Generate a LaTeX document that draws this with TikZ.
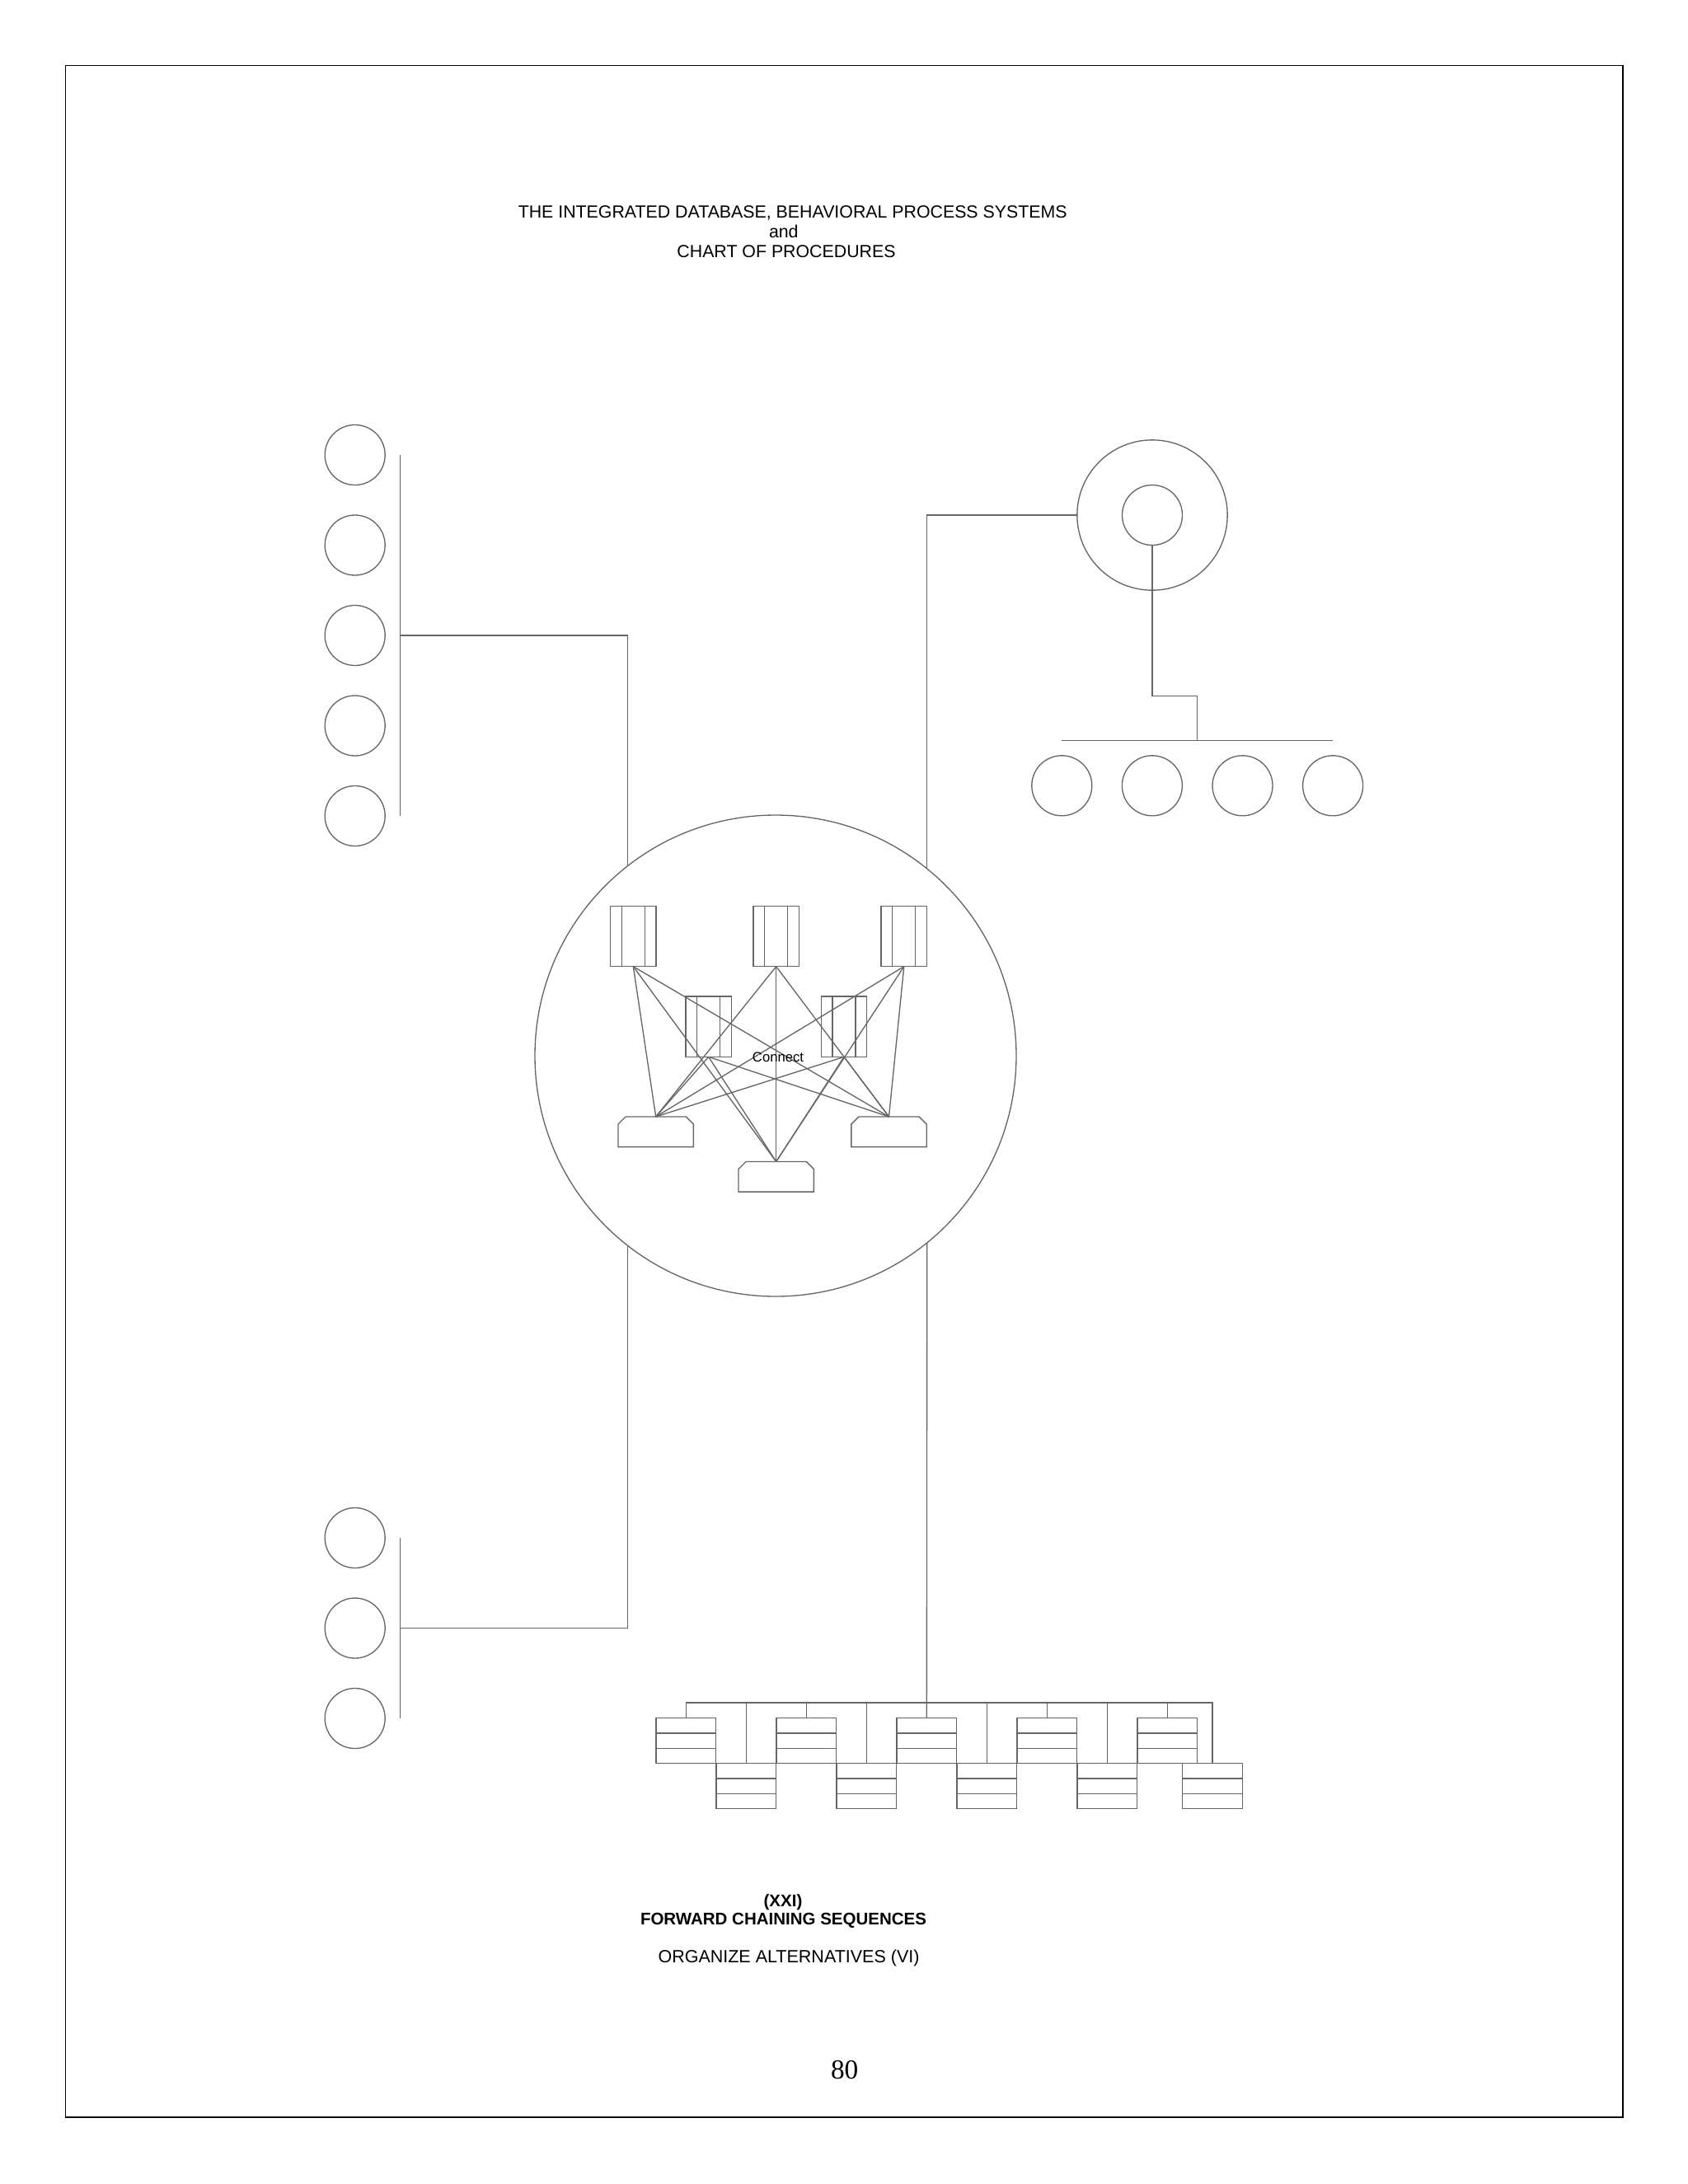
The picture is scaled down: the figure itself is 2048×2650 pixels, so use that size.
\documentclass[tikz,border=0pt]{standalone}
\usepackage{fontspec}
\setmainfont{Liberation Sans}
\newfontfamily\pagefont{Liberation Serif}
\usetikzlibrary{calc,positioning}

\begin{document}
\begin{tikzpicture}[
                x=0.3pt, y=-0.3pt,
                every node/.style={outer sep=0pt, inner sep=0pt},
                wire/.style={draw=black!60, line width=0.4pt},
                disc/.style={circle, wire, minimum size=21.9pt},
                file/.style={rectangle, wire, minimum width=16.6pt, minimum height=22pt,
                    append after command={\pgfextra{
                        \draw[wire] ([xshift=4.1pt]\tikzlastnode.north west) -- ([xshift=4.1pt]\tikzlastnode.south west);
                        \draw[wire] ([xshift=-4.1pt]\tikzlastnode.north east) -- ([xshift=-4.1pt]\tikzlastnode.south east);
                    }}},
                term/.style={rectangle, minimum width=27.4pt, minimum height=11pt,
                    append after command={\pgfextra{
                        \draw[wire] (\tikzlastnode.south west) -- ([yshift=-2.7pt]\tikzlastnode.north west)
                            -- ([xshift=2.7pt]\tikzlastnode.north west) -- ([xshift=-2.7pt]\tikzlastnode.north east)
                            -- ([yshift=-2.7pt]\tikzlastnode.north east) -- (\tikzlastnode.south east) -- cycle;
                    }}},
                record/.style={rectangle, wire, minimum width=21.8pt, minimum height=16.5pt,
                    append after command={\pgfextra{
                        \draw[wire] ($(\tikzlastnode.north west)!0.3333!(\tikzlastnode.south west)$) -- ($(\tikzlastnode.north east)!0.3333!(\tikzlastnode.south east)$);
                        \draw[wire] ($(\tikzlastnode.north west)!0.6667!(\tikzlastnode.south west)$) -- ($(\tikzlastnode.north east)!0.6667!(\tikzlastnode.south east)$);
                    }}},
                caption/.style={anchor=base, font=\fontsize{6.4}{7.2}\selectfont}
            ]
                \useasboundingbox (0,0) rectangle (2048,2650);
                \draw[line width=0.5pt] (79.4,79.4) rectangle (1969,2569);
                \node[caption] (title1) at (961.7,264.3) {THE INTEGRATED DATABASE, BEHAVIORAL PROCESS SYSTEMS};
                \node[caption] (title2) at (950.8,288) {and};
                \node[caption] (title3) at (954,312.3) {CHART OF PROCEDURES};
                % hub with its files
                \node[circle, wire, minimum size=175.2pt] (hub) at (941,1281) {};
                \node[file] (f1) at (768.3,1136) {};
                \node[file] (f2) at (941.7,1136) {};
                \node[file] (f3) at (1096.8,1136) {};
                \node[file] (f4) at (859.7,1245.7) {};
                \node[file] (f5) at (1024,1245.7) {};
                \node[term] (t1) at (795.7,1373.3) {};
                \node[term] (t2) at (941.7,1427.8) {};
                \node[term] (t3) at (1078.5,1373.3) {};
                \foreach \f in {1,...,5} {
                    \foreach \t in {1,2,3} {
                        \draw[wire] (f\f.south) -- (t\t.north);
                    }
                }
                \node[anchor=base, font=\fontsize{5}{6}\selectfont] (connect) at (944,1288) {Connect};
                % left top group
                \foreach \i in {1,...,5} {
                    \node[disc] (a\i) at (430.7,{552+109.5*(\i-1)}) {};
                }
                \coordinate (abarT) at ($(a1)+(55,0)$);
                \coordinate (abarB) at ($(a5)+(55,0)$);
                \coordinate (abarM) at ($(a3)+(55,0)$);
                \draw[wire] (abarT) -- (abarB);
                \draw[wire] (abarM) -| (hub.128.5);
                % right top group
                \node[disc, minimum size=54.7pt] (ring) at (1398,625) {};
                \node[disc] (core) at (1398,625) {};
                \draw[wire] (hub.51.1) |- (ring.west);
                \foreach \i in {1,...,4} {
                    \node[disc] (b\i) at ({1288.3+109.6*(\i-1)},953.3) {};
                }
                \coordinate (bbarL) at ($(b1)+(0,-55)$);
                \coordinate (bbarR) at ($(b4)+(0,-55)$);
                \coordinate (bjoin) at ($(bbarL)!0.5!(bbarR)$);
                \draw[wire] (bbarL) -- (bbarR);
                \draw[wire] (core.south) -- ++(0,182.7) -| (bjoin);
                % left bottom group
                \foreach \i in {1,2,3} {
                    \node[disc] (c\i) at (430.7,{1866+109.5*(\i-1)}) {};
                }
                \coordinate (cbarT) at ($(c1)+(55,0)$);
                \coordinate (cbarB) at ($(c3)+(55,0)$);
                \coordinate (cbarM) at ($(c2)+(55,0)$);
                \draw[wire] (cbarT) -- (cbarB);
                \draw[wire] (cbarM) -| (hub.-128.5);
                % records
                \foreach \i in {1,...,5} {
                    \node[record] (u\i) at ({832.3+146*(\i-1)},2112.2) {};
                }
                \foreach \i in {1,...,4} {
                    \node[record] (l\i) at ({905.3+146*(\i-1)},2167) {};
                }
                \node[record] (l5) at (1471,2167) {};
                \coordinate (busR) at ($(l5.north)+(0,-73.4)$);
                \draw[wire] (u1.north) |- (busR) -- (l5.north);
                \foreach \i in {2,...,5} {
                    \draw[wire] (u\i.north) -- (u\i.north |- busR);
                }
                \foreach \i in {1,...,4} {
                    \draw[wire] (l\i.north) -- (l\i.north |- busR);
                }
                \draw[wire] (hub.-51.1) -- (u3.north);
                \node[caption, font=\fontsize{6.15}{7.2}\selectfont\bfseries] (num) at (950,2313.3) {(XXI)};
                \node[caption, font=\fontsize{6.15}{7.2}\selectfont\bfseries] (seq) at (950.5,2335) {FORWARD CHAINING SEQUENCES};
                \node[caption, font=\fontsize{6.45}{7.2}\selectfont] (alt) at (957,2381.7) {ORGANIZE ALTERNATIVES (VI)};
                \node[anchor=base, font=\pagefont\fontsize{10}{12}\selectfont] (page) at (1024.7,2522) {80};
            \end{tikzpicture}
\end{document}
